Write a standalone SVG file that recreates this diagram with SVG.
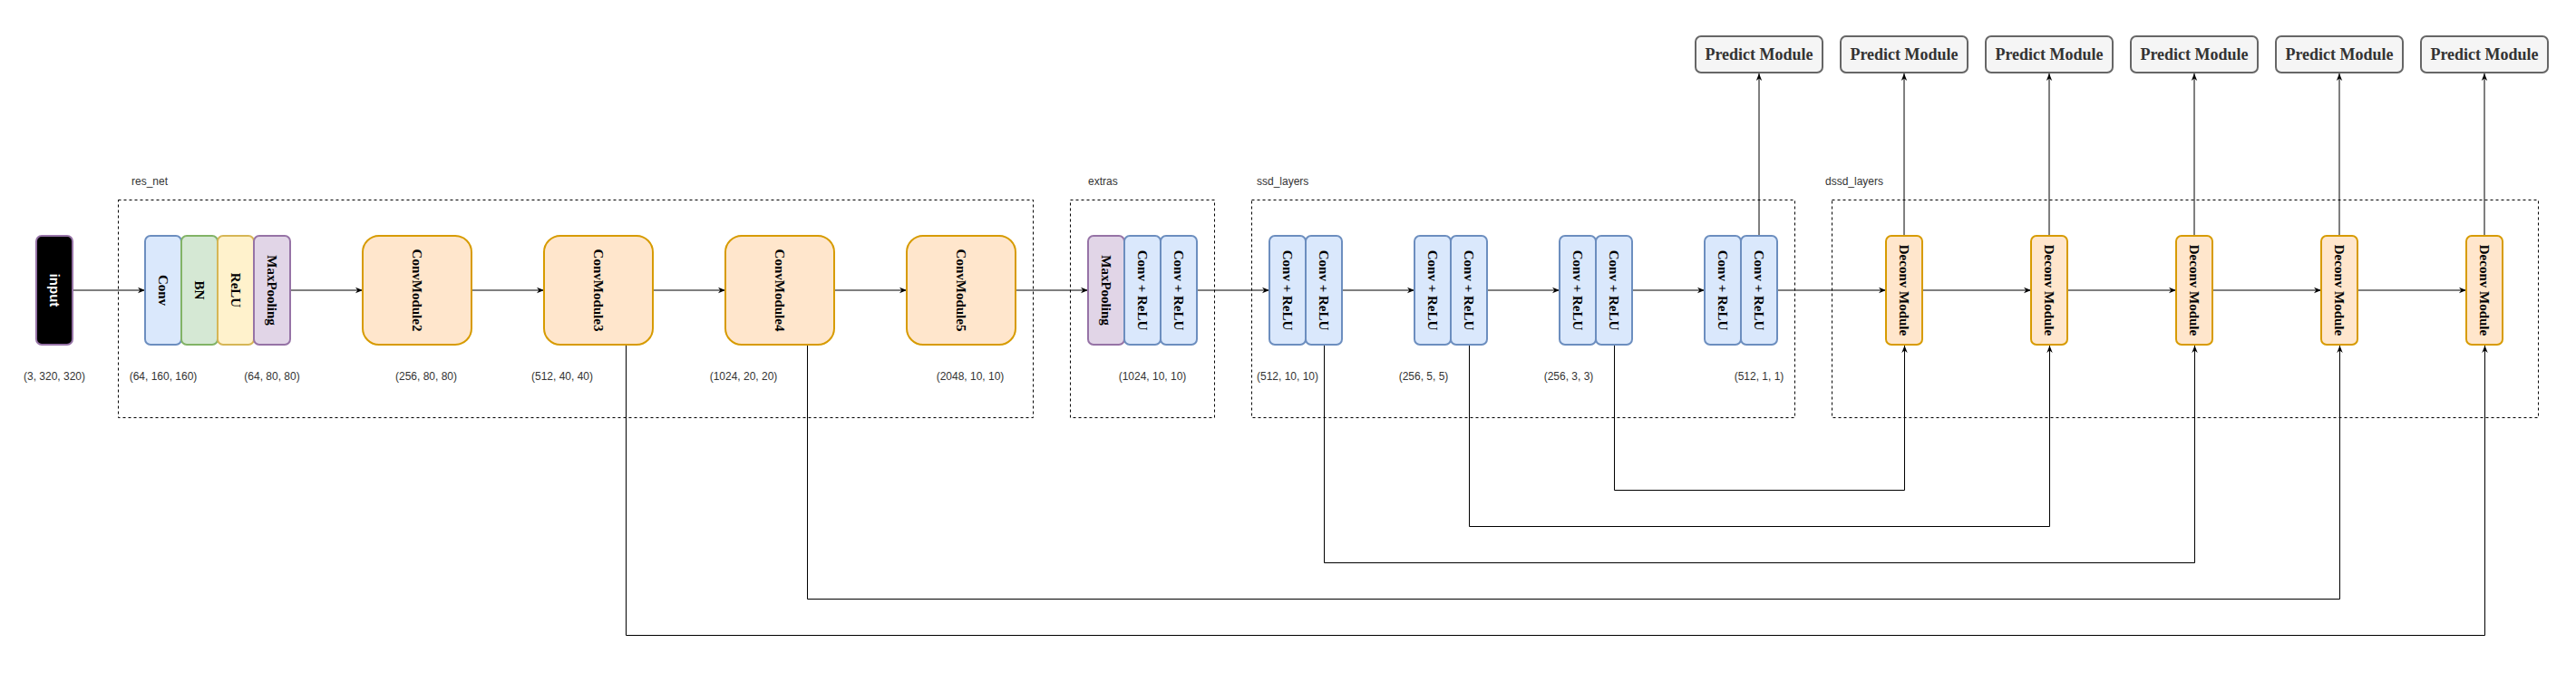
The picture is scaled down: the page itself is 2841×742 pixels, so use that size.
<svg xmlns="http://www.w3.org/2000/svg" width="2841" height="742" viewBox="0 0 2841 742">
<style>
.bg{fill:#ffffff}
.grp{fill:none;stroke:#000;stroke-width:1;stroke-dasharray:3 3}
.glbl{font-family:"Liberation Sans",Arial,sans-serif;font-size:12px;fill:#333}
.dim{font-family:"Liberation Sans",Arial,sans-serif;font-size:12px;fill:#333;text-anchor:middle}
.n{stroke-width:2}
.blue{fill:#dae8fc;stroke:#6c8ebf}
.green{fill:#d5e8d4;stroke:#82b366}
.yellow{fill:#fff2cc;stroke:#d6b656}
.purple{fill:#e1d5e7;stroke:#9673a6}
.orange{fill:#ffe6cc;stroke:#d79b00}
.gray{fill:#f5f5f5;stroke:#666666}
.vt{font-family:"Liberation Serif","Times New Roman",serif;font-weight:bold;font-size:15px;fill:#000;text-anchor:middle;dominant-baseline:central}
.pt{font-family:"Liberation Serif","Times New Roman",serif;font-weight:bold;font-size:18px;fill:#333;text-anchor:middle;dominant-baseline:central}
.it{font-family:"Liberation Sans",Arial,sans-serif;font-weight:bold;font-size:15px;fill:#fff;text-anchor:middle;dominant-baseline:central}
.c{fill:none;stroke:#000;stroke-width:1}
</style>
<defs>
<marker id="arr" viewBox="0 0 10 10" refX="10" refY="5" markerWidth="8" markerHeight="8" markerUnits="userSpaceOnUse" orient="auto">
<path d="M0,1 L10,5 L0,9 L3,5 Z" fill="#000"/>
</marker>
</defs>
<rect class="bg" x="0" y="0" width="2841" height="742"/>

<g id="groups">
<rect class="grp" x="130.5" y="220.5" width="1009" height="240"/>
<text class="glbl" x="145" y="204">res_net</text>
<rect class="grp" x="1180.5" y="220.5" width="159" height="240"/>
<text class="glbl" x="1200" y="204">extras</text>
<rect class="grp" x="1380.5" y="220.5" width="599" height="240"/>
<text class="glbl" x="1386" y="204">ssd_layers</text>
<rect class="grp" x="2020.5" y="220.5" width="779" height="240"/>
<text class="glbl" x="2013" y="204">dssd_layers</text>
</g>

<g id="connectors">
<line class="c" x1="80" y1="320" x2="160" y2="320" marker-end="url(#arr)"/>
<line class="c" x1="320" y1="320" x2="400" y2="320" marker-end="url(#arr)"/>
<line class="c" x1="520" y1="320" x2="600" y2="320" marker-end="url(#arr)"/>
<line class="c" x1="720" y1="320" x2="800" y2="320" marker-end="url(#arr)"/>
<line class="c" x1="920" y1="320" x2="1000" y2="320" marker-end="url(#arr)"/>
<line class="c" x1="1120" y1="320" x2="1200" y2="320" marker-end="url(#arr)"/>
<line class="c" x1="1320" y1="320" x2="1400" y2="320" marker-end="url(#arr)"/>
<line class="c" x1="1480" y1="320" x2="1560" y2="320" marker-end="url(#arr)"/>
<line class="c" x1="1640" y1="320" x2="1720" y2="320" marker-end="url(#arr)"/>
<line class="c" x1="1800" y1="320" x2="1880" y2="320" marker-end="url(#arr)"/>
<line class="c" x1="1960" y1="320" x2="2080" y2="320" marker-end="url(#arr)"/>
<line class="c" x1="2120" y1="320" x2="2240" y2="320" marker-end="url(#arr)"/>
<line class="c" x1="2280" y1="320" x2="2400" y2="320" marker-end="url(#arr)"/>
<line class="c" x1="2440" y1="320" x2="2560" y2="320" marker-end="url(#arr)"/>
<line class="c" x1="2600" y1="320" x2="2720" y2="320" marker-end="url(#arr)"/>
<line class="c" x1="1940" y1="260" x2="1940" y2="81" marker-end="url(#arr)"/>
<line class="c" x1="2100" y1="260" x2="2100" y2="81" marker-end="url(#arr)"/>
<line class="c" x1="2260" y1="260" x2="2260" y2="81" marker-end="url(#arr)"/>
<line class="c" x1="2420" y1="260" x2="2420" y2="81" marker-end="url(#arr)"/>
<line class="c" x1="2580" y1="260" x2="2580" y2="81" marker-end="url(#arr)"/>
<line class="c" x1="2740" y1="260" x2="2740" y2="81" marker-end="url(#arr)"/>
<polyline class="c" points="1780.5,380 1780.5,540.5 2100.5,540.5 2100.5,381" marker-end="url(#arr)"/>
<polyline class="c" points="1620.5,380 1620.5,580.5 2260.5,580.5 2260.5,381" marker-end="url(#arr)"/>
<polyline class="c" points="1460.5,380 1460.5,620.5 2420.5,620.5 2420.5,381" marker-end="url(#arr)"/>
<polyline class="c" points="890.5,380 890.5,660.5 2580.5,660.5 2580.5,381" marker-end="url(#arr)"/>
<polyline class="c" points="690.5,380 690.5,700.5 2740.5,700.5 2740.5,381" marker-end="url(#arr)"/>
</g>

<g id="input"><rect x="40" y="260" width="40" height="120" rx="6" fill="#000" stroke="#9673a6" stroke-width="2"/><text class="it" x="60" y="320" transform="rotate(90 60 320)">input</text></g>
<g id="conv"><rect class="n blue" x="160" y="260" width="40" height="120" rx="6"/><text class="vt" x="180" y="320" transform="rotate(90 180 320)">Conv</text></g>
<g id="bn"><rect class="n green" x="200" y="260" width="40" height="120" rx="6"/><text class="vt" x="220" y="320" transform="rotate(90 220 320)">BN</text></g>
<g id="relu"><rect class="n yellow" x="240" y="260" width="40" height="120" rx="6"/><text class="vt" x="260" y="320" transform="rotate(90 260 320)">ReLU</text></g>
<g id="maxpool1"><rect class="n purple" x="280" y="260" width="40" height="120" rx="6"/><text class="vt" x="300" y="320" transform="rotate(90 300 320)">MaxPooling</text></g>

<g id="convmodule2"><rect class="n orange" x="400" y="260" width="120" height="120" rx="18"/><text class="vt" x="460" y="320" transform="rotate(90 460 320)">ConvModule2</text></g>
<g id="convmodule3"><rect class="n orange" x="600" y="260" width="120" height="120" rx="18"/><text class="vt" x="660" y="320" transform="rotate(90 660 320)">ConvModule3</text></g>
<g id="convmodule4"><rect class="n orange" x="800" y="260" width="120" height="120" rx="18"/><text class="vt" x="860" y="320" transform="rotate(90 860 320)">ConvModule4</text></g>
<g id="convmodule5"><rect class="n orange" x="1000" y="260" width="120" height="120" rx="18"/><text class="vt" x="1060" y="320" transform="rotate(90 1060 320)">ConvModule5</text></g>

<g id="maxpool2"><rect class="n purple" x="1200" y="260" width="40" height="120" rx="6"/><text class="vt" x="1220" y="320" transform="rotate(90 1220 320)">MaxPooling</text></g>
<g id="extra1"><rect class="n blue" x="1240" y="260" width="40" height="120" rx="6"/><text class="vt" x="1260" y="320" transform="rotate(90 1260 320)">Conv + ReLU</text></g>
<g id="extra2"><rect class="n blue" x="1280" y="260" width="40" height="120" rx="6"/><text class="vt" x="1300" y="320" transform="rotate(90 1300 320)">Conv + ReLU</text></g>

<g id="ssd1a"><rect class="n blue" x="1400" y="260" width="40" height="120" rx="6"/><text class="vt" x="1420" y="320" transform="rotate(90 1420 320)">Conv + ReLU</text></g>
<g id="ssd1b"><rect class="n blue" x="1440" y="260" width="40" height="120" rx="6"/><text class="vt" x="1460" y="320" transform="rotate(90 1460 320)">Conv + ReLU</text></g>
<g id="ssd2a"><rect class="n blue" x="1560" y="260" width="40" height="120" rx="6"/><text class="vt" x="1580" y="320" transform="rotate(90 1580 320)">Conv + ReLU</text></g>
<g id="ssd2b"><rect class="n blue" x="1600" y="260" width="40" height="120" rx="6"/><text class="vt" x="1620" y="320" transform="rotate(90 1620 320)">Conv + ReLU</text></g>
<g id="ssd3a"><rect class="n blue" x="1720" y="260" width="40" height="120" rx="6"/><text class="vt" x="1740" y="320" transform="rotate(90 1740 320)">Conv + ReLU</text></g>
<g id="ssd3b"><rect class="n blue" x="1760" y="260" width="40" height="120" rx="6"/><text class="vt" x="1780" y="320" transform="rotate(90 1780 320)">Conv + ReLU</text></g>
<g id="ssd4a"><rect class="n blue" x="1880" y="260" width="40" height="120" rx="6"/><text class="vt" x="1900" y="320" transform="rotate(90 1900 320)">Conv + ReLU</text></g>
<g id="ssd4b"><rect class="n blue" x="1920" y="260" width="40" height="120" rx="6"/><text class="vt" x="1940" y="320" transform="rotate(90 1940 320)">Conv + ReLU</text></g>

<g id="deconv1"><rect class="n orange" x="2080" y="260" width="40" height="120" rx="6"/><text class="vt" x="2100" y="320" transform="rotate(90 2100 320)">Deconv Module</text></g>
<g id="deconv2"><rect class="n orange" x="2240" y="260" width="40" height="120" rx="6"/><text class="vt" x="2260" y="320" transform="rotate(90 2260 320)">Deconv Module</text></g>
<g id="deconv3"><rect class="n orange" x="2400" y="260" width="40" height="120" rx="6"/><text class="vt" x="2420" y="320" transform="rotate(90 2420 320)">Deconv Module</text></g>
<g id="deconv4"><rect class="n orange" x="2560" y="260" width="40" height="120" rx="6"/><text class="vt" x="2580" y="320" transform="rotate(90 2580 320)">Deconv Module</text></g>
<g id="deconv5"><rect class="n orange" x="2720" y="260" width="40" height="120" rx="6"/><text class="vt" x="2740" y="320" transform="rotate(90 2740 320)">Deconv Module</text></g>

<g id="predict1"><rect class="n gray" x="1870" y="40" width="140" height="40" rx="6"/><text class="pt" x="1940" y="60">Predict Module</text></g>
<g id="predict2"><rect class="n gray" x="2030" y="40" width="140" height="40" rx="6"/><text class="pt" x="2100" y="60">Predict Module</text></g>
<g id="predict3"><rect class="n gray" x="2190" y="40" width="140" height="40" rx="6"/><text class="pt" x="2260" y="60">Predict Module</text></g>
<g id="predict4"><rect class="n gray" x="2350" y="40" width="140" height="40" rx="6"/><text class="pt" x="2420" y="60">Predict Module</text></g>
<g id="predict5"><rect class="n gray" x="2510" y="40" width="140" height="40" rx="6"/><text class="pt" x="2580" y="60">Predict Module</text></g>
<g id="predict6"><rect class="n gray" x="2670" y="40" width="140" height="40" rx="6"/><text class="pt" x="2740" y="60">Predict Module</text></g>

<g id="dims">
<text class="dim" x="60" y="419">(3, 320, 320)</text>
<text class="dim" x="180" y="419">(64, 160, 160)</text>
<text class="dim" x="300" y="419">(64, 80, 80)</text>
<text class="dim" x="470" y="419">(256, 80, 80)</text>
<text class="dim" x="620" y="419">(512, 40, 40)</text>
<text class="dim" x="820" y="419">(1024, 20, 20)</text>
<text class="dim" x="1070" y="419">(2048, 10, 10)</text>
<text class="dim" x="1271" y="419">(1024, 10, 10)</text>
<text class="dim" x="1420" y="419">(512, 10, 10)</text>
<text class="dim" x="1570" y="419">(256, 5, 5)</text>
<text class="dim" x="1730" y="419">(256, 3, 3)</text>
<text class="dim" x="1940" y="419">(512, 1, 1)</text>
</g>
</svg>
